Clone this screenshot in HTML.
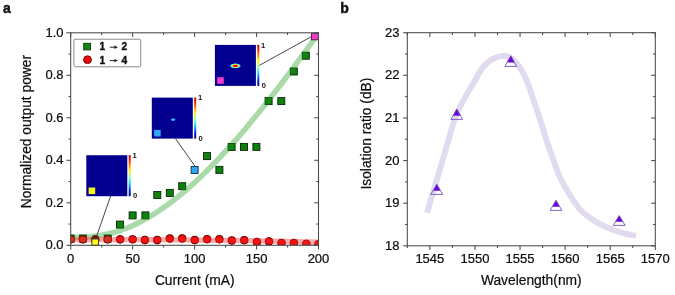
<!DOCTYPE html>
<html><head><meta charset="utf-8"><title>Figure</title>
<style>
html,body{margin:0;padding:0;background:#fff;}
body{width:675px;height:295px;overflow:hidden;font-family:"Liberation Sans", sans-serif;}
svg{display:block;filter:blur(0.4px);}
</style></head><body>
<svg width="675" height="295" viewBox="0 0 675 295">
<rect width="675" height="295" fill="#fff"/>
<clipPath id="ca"><rect x="70.7" y="32.8" width="247.8" height="212.5"/></clipPath>
<clipPath id="cb"><rect x="407.3" y="32.7" width="248" height="213.1"/></clipPath>
<g clip-path="url(#ca)">
<rect x="67.2" y="235" width="7" height="7" fill="#10800f" stroke="#032803" stroke-width="0.9"/>
<rect x="79.4" y="235" width="7" height="7" fill="#10800f" stroke="#032803" stroke-width="0.9"/>
<rect x="104.2" y="235" width="7" height="7" fill="#10800f" stroke="#032803" stroke-width="0.9"/>
<rect x="116.5" y="221.1" width="7" height="7" fill="#10800f" stroke="#032803" stroke-width="0.9"/>
<rect x="129.1" y="211.9" width="7" height="7" fill="#10800f" stroke="#032803" stroke-width="0.9"/>
<rect x="141.9" y="211.9" width="7" height="7" fill="#10800f" stroke="#032803" stroke-width="0.9"/>
<rect x="153.8" y="191.5" width="7" height="7" fill="#10800f" stroke="#032803" stroke-width="0.9"/>
<rect x="166.3" y="189.4" width="7" height="7" fill="#10800f" stroke="#032803" stroke-width="0.9"/>
<rect x="178.7" y="182.7" width="7" height="7" fill="#10800f" stroke="#032803" stroke-width="0.9"/>
<rect x="203.5" y="152.6" width="7" height="7" fill="#10800f" stroke="#032803" stroke-width="0.9"/>
<rect x="215.9" y="166.4" width="7" height="7" fill="#10800f" stroke="#032803" stroke-width="0.9"/>
<rect x="228.1" y="143.5" width="7" height="7" fill="#10800f" stroke="#032803" stroke-width="0.9"/>
<rect x="240.5" y="143.4" width="7" height="7" fill="#10800f" stroke="#032803" stroke-width="0.9"/>
<rect x="252.9" y="143.4" width="7" height="7" fill="#10800f" stroke="#032803" stroke-width="0.9"/>
<rect x="265.1" y="97.6" width="7" height="7" fill="#10800f" stroke="#032803" stroke-width="0.9"/>
<rect x="277.8" y="97.6" width="7" height="7" fill="#10800f" stroke="#032803" stroke-width="0.9"/>
<rect x="290.3" y="68" width="7" height="7" fill="#10800f" stroke="#032803" stroke-width="0.9"/>
<rect x="302.3" y="52.2" width="7" height="7" fill="#10800f" stroke="#032803" stroke-width="0.9"/>
<path d="M70.7,237.4 C72.25,237.38 76.78,237.4 80,237.3 C83.22,237.2 86.67,237.09 90,236.8 C93.33,236.51 97,236 100,235.54 C103,235.08 105.33,234.64 108,234.03 C110.67,233.42 113.33,232.71 116,231.9 C118.67,231.09 121.33,230.18 124,229.18 C126.67,228.18 129.33,227.08 132,225.89 C134.67,224.69 137.33,223.41 140,222.04 C142.67,220.66 145.33,219.2 148,217.65 C150.67,216.1 153.33,214.47 156,212.75 C158.67,211.04 161.33,209.23 164,207.36 C166.67,205.48 169.33,203.52 172,201.49 C174.67,199.45 177.33,197.34 180,195.16 C182.67,192.97 185.33,190.72 188,188.39 C190.67,186.07 193.33,183.67 196,181.21 C198.67,178.75 201.33,176.22 204,173.63 C206.67,171.04 209.33,168.38 212,165.67 C214.67,162.95 217.33,160.18 220,157.35 C222.67,154.52 225.33,151.63 228,148.69 C230.67,145.75 233.33,142.75 236,139.71 C238.67,136.67 241.33,133.57 244,130.43 C246.67,127.29 249.33,124.1 252,120.87 C254.67,117.64 257.33,114.36 260,111.05 C262.67,107.74 265.33,104.38 268,100.99 C270.67,97.59 273.33,94.16 276,90.7 C278.67,87.24 281.33,83.74 284,80.21 C286.67,76.69 289.33,73.13 292,69.54 C294.67,65.96 297.33,62.34 300,58.71 C302.67,55.07 305.42,51.29 308,47.73 C310.58,44.16 314.25,39.05 315.5,37.32" fill="none" stroke="rgba(20,150,20,0.36)" stroke-width="5.5"/>
<circle cx="70.7" cy="239.3" r="3.9" fill="#c8301a" stroke="#4a0800" stroke-width="0.9"/>
<circle cx="82.9" cy="239.3" r="3.9" fill="#c8301a" stroke="#4a0800" stroke-width="0.9"/>
<circle cx="95.3" cy="239.3" r="3.9" fill="#c8301a" stroke="#4a0800" stroke-width="0.9"/>
<circle cx="107.7" cy="239.3" r="3.9" fill="#c8301a" stroke="#4a0800" stroke-width="0.9"/>
<circle cx="120.1" cy="239.3" r="3.9" fill="#f40606" stroke="#4a0800" stroke-width="0.9"/>
<circle cx="132.6" cy="239.3" r="3.9" fill="#f40606" stroke="#4a0800" stroke-width="0.9"/>
<circle cx="144.9" cy="240" r="3.9" fill="#f40606" stroke="#4a0800" stroke-width="0.9"/>
<circle cx="157.2" cy="240" r="3.9" fill="#f40606" stroke="#4a0800" stroke-width="0.9"/>
<circle cx="169.8" cy="238.5" r="3.9" fill="#f40606" stroke="#4a0800" stroke-width="0.9"/>
<circle cx="182.2" cy="238.4" r="3.9" fill="#f40606" stroke="#4a0800" stroke-width="0.9"/>
<circle cx="194.7" cy="240" r="3.9" fill="#f40606" stroke="#4a0800" stroke-width="0.9"/>
<circle cx="207.1" cy="239.2" r="3.9" fill="#f40606" stroke="#4a0800" stroke-width="0.9"/>
<circle cx="219.4" cy="239.2" r="3.9" fill="#f40606" stroke="#4a0800" stroke-width="0.9"/>
<circle cx="231.8" cy="240.5" r="3.9" fill="#f40606" stroke="#4a0800" stroke-width="0.9"/>
<circle cx="244.2" cy="240.2" r="3.9" fill="#f40606" stroke="#4a0800" stroke-width="0.9"/>
<circle cx="256.9" cy="242" r="3.9" fill="#f40606" stroke="#4a0800" stroke-width="0.9"/>
<circle cx="269" cy="241.4" r="3.9" fill="#f40606" stroke="#4a0800" stroke-width="0.9"/>
<circle cx="281.5" cy="243" r="3.9" fill="#f40606" stroke="#4a0800" stroke-width="0.9"/>
<circle cx="293.9" cy="243" r="3.9" fill="#f40606" stroke="#4a0800" stroke-width="0.9"/>
<circle cx="306.3" cy="243.8" r="3.9" fill="#f40606" stroke="#4a0800" stroke-width="0.9"/>
<circle cx="318.5" cy="244.2" r="3.9" fill="#f40606" stroke="#4a0800" stroke-width="0.9"/>
<circle cx="95.3" cy="240.2" r="4" fill="#2a1408"/>
<path d="M70.7,239.6 L150,239.6 L250,240.6 L318.5,242.3" fill="none" stroke="rgba(250,40,40,0.4)" stroke-width="5.4"/>
</g>
<g stroke="#333" stroke-width="0.9" fill="none"><line x1="110.6" y1="196" x2="95.8" y2="238.5"/><line x1="175.6" y1="138.8" x2="195.3" y2="166.6"/><line x1="259.3" y1="65.4" x2="311.6" y2="36.5"/></g>
<rect x="91.9" y="239" width="6.6" height="6.3" fill="#ffff1a" stroke="#333" stroke-width="0.9"/>
<rect x="191.1" y="166.5" width="7" height="7" fill="#2ea8f0" stroke="#0a3050" stroke-width="0.9"/>
<rect x="311.4" y="33.2" width="7" height="6.6" fill="#f23cc8" stroke="#4a1050" stroke-width="0.9"/>
<linearGradient id="jet" x1="0" y1="0" x2="0" y2="1"><stop offset="0" stop-color="#a00000"/><stop offset="0.12" stop-color="#ff2000"/><stop offset="0.38" stop-color="#ffee00"/><stop offset="0.52" stop-color="#a0ffa0"/><stop offset="0.66" stop-color="#20e0ff"/><stop offset="0.85" stop-color="#0030ff"/><stop offset="1" stop-color="#00008a"/></linearGradient>
<radialGradient id="spot" cx="0.5" cy="0.5" r="0.5"><stop offset="0" stop-color="#b00000"/><stop offset="0.3" stop-color="#e01000"/><stop offset="0.5" stop-color="#ffd000"/><stop offset="0.68" stop-color="#60ffd0"/><stop offset="0.85" stop-color="#20a0ff"/><stop offset="1" stop-color="#0000a0" stop-opacity="0"/></radialGradient>
<radialGradient id="spot2" cx="0.5" cy="0.5" r="0.5"><stop offset="0" stop-color="#50d8ff"/><stop offset="0.55" stop-color="#2098ff"/><stop offset="1" stop-color="#0000a0" stop-opacity="0"/></radialGradient>
<g font-family='"Liberation Sans", sans-serif' fill="#111">
<rect x="86.3" y="155.2" width="41" height="41" fill="#03008f"/><rect x="128.7" y="155.2" width="2" height="41" fill="url(#jet)"/><rect x="88.6" y="187.5" width="6.6" height="6.6" fill="#f6f61a"/><text x="132.5" y="157.8" font-size="7.6" font-weight="bold">1</text><text x="133.1" y="198.4" font-size="7.6" font-weight="bold">0</text>
<rect x="151.8" y="97.6" width="41" height="41" fill="#03008f"/><rect x="194.2" y="97.6" width="2" height="41" fill="url(#jet)"/><rect x="154.1" y="129.9" width="6.6" height="6.6" fill="#30a8f0"/><text x="198" y="100.2" font-size="7.6" font-weight="bold">1</text><text x="198.6" y="140.8" font-size="7.6" font-weight="bold">0</text><ellipse cx="173.1" cy="119.6" rx="3.2" ry="1.8" fill="url(#spot2)"/>
<rect x="214.9" y="44.9" width="41" height="41" fill="#03008f"/><rect x="257.3" y="44.9" width="2" height="41" fill="url(#jet)"/><rect x="217.2" y="77.2" width="6.6" height="6.6" fill="#f03cc8"/><text x="261.1" y="47.5" font-size="7.6" font-weight="bold">1</text><text x="261.7" y="88.1" font-size="7.6" font-weight="bold">0</text><ellipse cx="235.4" cy="65.9" rx="5.8" ry="2.8" fill="url(#spot)"/>
</g>
<rect x="73.9" y="39.2" width="66.8" height="27.6" rx="1" fill="#fff" stroke="#8a8a8a" stroke-width="1"/>
<rect x="83.7" y="43.3" width="6.8" height="6.6" fill="#128a12" stroke="#053805" stroke-width="0.9"/>
<circle cx="87.5" cy="59.7" r="3.9" fill="#f40606" stroke="#5a0000" stroke-width="0.9"/>
<g font-family='"Liberation Sans", sans-serif' font-weight="bold" font-size="10.2" fill="#111" stroke="#111" stroke-width="0.35">
<text x="99.6" y="50.3">1</text><text x="121.6" y="50.3">2</text>
<text x="99.6" y="63.9">1</text><text x="121.6" y="63.9">4</text>
</g>
<line x1="109.8" y1="47.2" x2="115.6" y2="47.2" stroke="#222" stroke-width="1.0"/>
<path d="M114.4,45.5 L118,47.2 L114.4,48.9 Z" fill="#222"/>
<line x1="109.8" y1="60.6" x2="115.6" y2="60.6" stroke="#222" stroke-width="1.0"/>
<path d="M114.4,58.9 L118,60.6 L114.4,62.3 Z" fill="#222"/>
<g stroke="#4a4a4a" stroke-width="1.05"><rect x="70.7" y="32.8" width="247.8" height="212.5" fill="none" stroke="#4a4a4a" stroke-width="1.05"/><line x1="70.7" y1="245.3" x2="70.7" y2="249.5"/><line x1="70.7" y1="32.8" x2="70.7" y2="37"/><line x1="101.68" y1="245.3" x2="101.68" y2="247.5"/><line x1="101.68" y1="32.8" x2="101.68" y2="35"/><line x1="132.65" y1="245.3" x2="132.65" y2="249.5"/><line x1="132.65" y1="32.8" x2="132.65" y2="37"/><line x1="163.62" y1="245.3" x2="163.62" y2="247.5"/><line x1="163.62" y1="32.8" x2="163.62" y2="35"/><line x1="194.6" y1="245.3" x2="194.6" y2="249.5"/><line x1="194.6" y1="32.8" x2="194.6" y2="37"/><line x1="225.57" y1="245.3" x2="225.57" y2="247.5"/><line x1="225.57" y1="32.8" x2="225.57" y2="35"/><line x1="256.55" y1="245.3" x2="256.55" y2="249.5"/><line x1="256.55" y1="32.8" x2="256.55" y2="37"/><line x1="287.52" y1="245.3" x2="287.52" y2="247.5"/><line x1="287.52" y1="32.8" x2="287.52" y2="35"/><line x1="318.5" y1="245.3" x2="318.5" y2="249.5"/><line x1="318.5" y1="32.8" x2="318.5" y2="37"/><line x1="70.7" y1="245.3" x2="66.5" y2="245.3"/><line x1="318.5" y1="245.3" x2="314.3" y2="245.3"/><line x1="70.7" y1="224.05" x2="68.5" y2="224.05"/><line x1="318.5" y1="224.05" x2="316.3" y2="224.05"/><line x1="70.7" y1="202.8" x2="66.5" y2="202.8"/><line x1="318.5" y1="202.8" x2="314.3" y2="202.8"/><line x1="70.7" y1="181.55" x2="68.5" y2="181.55"/><line x1="318.5" y1="181.55" x2="316.3" y2="181.55"/><line x1="70.7" y1="160.3" x2="66.5" y2="160.3"/><line x1="318.5" y1="160.3" x2="314.3" y2="160.3"/><line x1="70.7" y1="139.05" x2="68.5" y2="139.05"/><line x1="318.5" y1="139.05" x2="316.3" y2="139.05"/><line x1="70.7" y1="117.8" x2="66.5" y2="117.8"/><line x1="318.5" y1="117.8" x2="314.3" y2="117.8"/><line x1="70.7" y1="96.55" x2="68.5" y2="96.55"/><line x1="318.5" y1="96.55" x2="316.3" y2="96.55"/><line x1="70.7" y1="75.3" x2="66.5" y2="75.3"/><line x1="318.5" y1="75.3" x2="314.3" y2="75.3"/><line x1="70.7" y1="54.05" x2="68.5" y2="54.05"/><line x1="318.5" y1="54.05" x2="316.3" y2="54.05"/><line x1="70.7" y1="32.8" x2="66.5" y2="32.8"/><line x1="318.5" y1="32.8" x2="314.3" y2="32.8"/></g>
<g font-family='"Liberation Sans", sans-serif' font-size="13" fill="#0c0c0c" stroke="#0c0c0c" stroke-width="0.22"><text x="70.7" y="262.6" text-anchor="middle">0</text><text x="132.65" y="262.6" text-anchor="middle">50</text><text x="194.6" y="262.6" text-anchor="middle">100</text><text x="256.55" y="262.6" text-anchor="middle">150</text><text x="318.5" y="262.6" text-anchor="middle">200</text><text x="63.5" y="249.2" text-anchor="end">0.0</text><text x="63.5" y="206.7" text-anchor="end">0.2</text><text x="63.5" y="164.2" text-anchor="end">0.4</text><text x="63.5" y="121.7" text-anchor="end">0.6</text><text x="63.5" y="79.2" text-anchor="end">0.8</text><text x="63.5" y="36.7" text-anchor="end">1.0</text></g>
<text x="194.75" y="285.2" text-anchor="middle" font-family='"Liberation Sans", sans-serif' font-size="13.8" fill="#0c0c0c" stroke="#0c0c0c" stroke-width="0.2">Current (mA)</text>
<text transform="translate(31.4,131.6) rotate(-90)" text-anchor="middle" font-family='"Liberation Sans", sans-serif' font-size="13.8" fill="#0c0c0c" stroke="#0c0c0c" stroke-width="0.2">Normalized output power</text>
<path d="M427.2,212.8 C427.92,210.23 429.58,203.92 431.5,197.4 C433.42,190.88 436.32,181.72 438.7,173.7 C441.08,165.68 444.02,155.4 445.8,149.3 C447.58,143.2 448.15,141.38 449.4,137.1 C450.65,132.82 451.73,128.23 453.3,123.6 C454.87,118.97 456.8,113.72 458.8,109.3 C460.8,104.88 462.9,101.38 465.3,97.1 C467.7,92.82 470.45,88.32 473.2,83.6 C475.95,78.88 479.23,72.47 481.8,68.8 C484.37,65.13 486.33,63.42 488.6,61.6 C490.87,59.78 493.15,58.85 495.4,57.9 C497.65,56.95 499.85,56.08 502.1,55.9 C504.35,55.72 506.63,55.78 508.9,56.8 C511.17,57.82 513.43,59.47 515.7,62 C517.97,64.53 520.37,68.17 522.5,72 C524.63,75.83 526.68,80.33 528.5,85 C530.32,89.67 531.78,95.23 533.4,100 C535.02,104.77 536.7,109.08 538.2,113.6 C539.7,118.12 541.03,122.7 542.4,127.1 C543.77,131.5 544.95,135.58 546.4,140 C547.85,144.42 549.52,149.08 551.1,153.6 C552.68,158.12 554.37,163.03 555.9,167.1 C557.43,171.17 558.28,173.87 560.3,178 C562.32,182.13 564.78,186.75 568,191.9 C571.22,197.05 575.1,204 579.6,208.9 C584.1,213.8 590.17,218.12 595,221.3 C599.83,224.48 604.08,226.08 608.6,228 C613.12,229.92 617.53,231.5 622.1,232.8 C626.67,234.1 633.68,235.3 636,235.8" fill="none" stroke="#e2daef" stroke-width="5.9"/>
<path d="M436.8,184.2 L440.58,190.73 L433.02,190.73 Z" fill="#6a06d8"/>
<path d="M436.8,184.2 L442.7,194.4 L430.9,194.4 Z" fill="none" stroke="#7048b8" stroke-width="0.85" stroke-linejoin="miter"/>
<path d="M456.8,109 L460.58,115.66 L453.02,115.66 Z" fill="#6a06d8"/>
<path d="M456.8,109 L462.7,119.4 L450.9,119.4 Z" fill="none" stroke="#7048b8" stroke-width="0.85" stroke-linejoin="miter"/>
<path d="M510.8,55.8 L514.58,62.58 L507.02,62.58 Z" fill="#6a06d8"/>
<path d="M510.8,55.8 L516.7,66.4 L504.9,66.4 Z" fill="none" stroke="#7048b8" stroke-width="0.85" stroke-linejoin="miter"/>
<path d="M556,200.2 L559.78,206.73 L552.22,206.73 Z" fill="#6a06d8"/>
<path d="M556,200.2 L561.9,210.4 L550.1,210.4 Z" fill="none" stroke="#7048b8" stroke-width="0.85" stroke-linejoin="miter"/>
<path d="M619.2,215.6 L622.98,221.87 L615.42,221.87 Z" fill="#6a06d8"/>
<path d="M619.2,215.6 L625.1,225.4 L613.3,225.4 Z" fill="none" stroke="#7048b8" stroke-width="0.85" stroke-linejoin="miter"/>
<g stroke="#4a4a4a" stroke-width="1.05"><rect x="407.3" y="32.7" width="248" height="213.1" fill="none" stroke="#4a4a4a" stroke-width="1.05"/><line x1="407.3" y1="245.8" x2="407.3" y2="248"/><line x1="407.3" y1="32.7" x2="407.3" y2="34.9"/><line x1="429.85" y1="245.8" x2="429.85" y2="250"/><line x1="429.85" y1="32.7" x2="429.85" y2="36.9"/><line x1="452.39" y1="245.8" x2="452.39" y2="248"/><line x1="452.39" y1="32.7" x2="452.39" y2="34.9"/><line x1="474.94" y1="245.8" x2="474.94" y2="250"/><line x1="474.94" y1="32.7" x2="474.94" y2="36.9"/><line x1="497.48" y1="245.8" x2="497.48" y2="248"/><line x1="497.48" y1="32.7" x2="497.48" y2="34.9"/><line x1="520.03" y1="245.8" x2="520.03" y2="250"/><line x1="520.03" y1="32.7" x2="520.03" y2="36.9"/><line x1="542.57" y1="245.8" x2="542.57" y2="248"/><line x1="542.57" y1="32.7" x2="542.57" y2="34.9"/><line x1="565.12" y1="245.8" x2="565.12" y2="250"/><line x1="565.12" y1="32.7" x2="565.12" y2="36.9"/><line x1="587.66" y1="245.8" x2="587.66" y2="248"/><line x1="587.66" y1="32.7" x2="587.66" y2="34.9"/><line x1="610.21" y1="245.8" x2="610.21" y2="250"/><line x1="610.21" y1="32.7" x2="610.21" y2="36.9"/><line x1="632.75" y1="245.8" x2="632.75" y2="248"/><line x1="632.75" y1="32.7" x2="632.75" y2="34.9"/><line x1="655.3" y1="245.8" x2="655.3" y2="250"/><line x1="655.3" y1="32.7" x2="655.3" y2="36.9"/><line x1="407.3" y1="245.8" x2="403.1" y2="245.8"/><line x1="655.3" y1="245.8" x2="651.1" y2="245.8"/><line x1="407.3" y1="224.49" x2="405.1" y2="224.49"/><line x1="655.3" y1="224.49" x2="653.1" y2="224.49"/><line x1="407.3" y1="203.18" x2="403.1" y2="203.18"/><line x1="655.3" y1="203.18" x2="651.1" y2="203.18"/><line x1="407.3" y1="181.87" x2="405.1" y2="181.87"/><line x1="655.3" y1="181.87" x2="653.1" y2="181.87"/><line x1="407.3" y1="160.56" x2="403.1" y2="160.56"/><line x1="655.3" y1="160.56" x2="651.1" y2="160.56"/><line x1="407.3" y1="139.25" x2="405.1" y2="139.25"/><line x1="655.3" y1="139.25" x2="653.1" y2="139.25"/><line x1="407.3" y1="117.94" x2="403.1" y2="117.94"/><line x1="655.3" y1="117.94" x2="651.1" y2="117.94"/><line x1="407.3" y1="96.63" x2="405.1" y2="96.63"/><line x1="655.3" y1="96.63" x2="653.1" y2="96.63"/><line x1="407.3" y1="75.32" x2="403.1" y2="75.32"/><line x1="655.3" y1="75.32" x2="651.1" y2="75.32"/><line x1="407.3" y1="54.01" x2="405.1" y2="54.01"/><line x1="655.3" y1="54.01" x2="653.1" y2="54.01"/><line x1="407.3" y1="32.7" x2="403.1" y2="32.7"/><line x1="655.3" y1="32.7" x2="651.1" y2="32.7"/></g>
<g font-family='"Liberation Sans", sans-serif' font-size="13" fill="#0c0c0c" stroke="#0c0c0c" stroke-width="0.22"><text x="429.85" y="262.8" text-anchor="middle">1545</text><text x="474.94" y="262.8" text-anchor="middle">1550</text><text x="520.03" y="262.8" text-anchor="middle">1555</text><text x="565.12" y="262.8" text-anchor="middle">1560</text><text x="610.21" y="262.8" text-anchor="middle">1565</text><text x="655.3" y="262.8" text-anchor="middle">1570</text><text x="399.5" y="249.9" text-anchor="end">18</text><text x="399.5" y="207.28" text-anchor="end">19</text><text x="399.5" y="164.66" text-anchor="end">20</text><text x="399.5" y="122.04" text-anchor="end">21</text><text x="399.5" y="79.42" text-anchor="end">22</text><text x="399.5" y="36.8" text-anchor="end">23</text></g>
<text x="531.3" y="285.3" text-anchor="middle" font-family='"Liberation Sans", sans-serif' font-size="13.8" fill="#0c0c0c" stroke="#0c0c0c" stroke-width="0.2">Wavelength(nm)</text>
<text transform="translate(371.3,133.6) rotate(-90)" text-anchor="middle" font-family='"Liberation Sans", sans-serif' font-size="13.8" fill="#0c0c0c" stroke="#0c0c0c" stroke-width="0.2">Isolation ratio (dB)</text>
<text x="3" y="12.9" font-family='"Liberation Sans", sans-serif' font-size="14" font-weight="bold" fill="#111" stroke="#111" stroke-width="0.45">a</text>
<text x="340.2" y="12.9" font-family='"Liberation Sans", sans-serif' font-size="14" font-weight="bold" fill="#111" stroke="#111" stroke-width="0.45">b</text>
</svg>
</body></html>
